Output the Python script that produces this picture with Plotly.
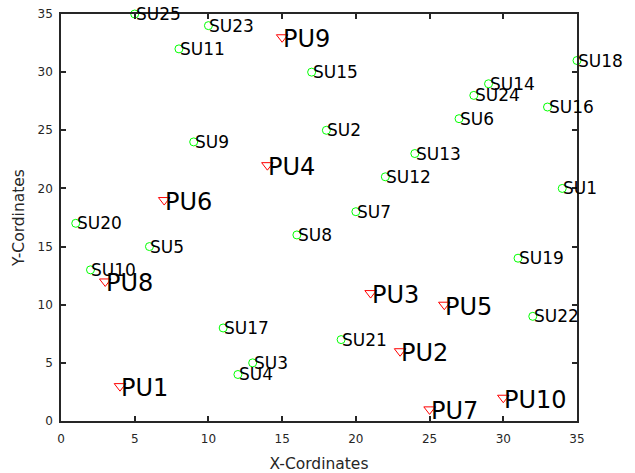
import plotly.graph_objects as go

# Secondary users (SU): positions and names
su_names = ["SU1", "SU2", "SU3", "SU4", "SU5", "SU6", "SU7", "SU8", "SU9", "SU10",
            "SU11", "SU12", "SU13", "SU14", "SU15", "SU16", "SU17", "SU18", "SU19", "SU20",
            "SU21", "SU22", "SU23", "SU24", "SU25"]
su_x = [34, 18, 13, 12, 6, 27, 20, 16, 9, 2,
        8, 22, 24, 29, 17, 33, 11, 35, 31, 1,
        19, 32, 10, 28, 5]
su_y = [20, 25, 5, 4, 15, 26, 18, 16, 24, 13,
        32, 21, 23, 29, 30, 27, 8, 31, 14, 17,
        7, 9, 34, 28, 35]

# Primary users (PU): positions and names
pu_names = ["PU1", "PU2", "PU3", "PU4", "PU5", "PU6", "PU7", "PU8", "PU9", "PU10"]
pu_x = [4, 23, 21, 14, 26, 7, 25, 3, 15, 30]
pu_y = [3, 6, 11, 22, 10, 19, 1, 12, 33, 2]

# Axis ticks
tick_vals = [0, 5, 10, 15, 20, 25, 30, 35]

FONT = "DejaVu Sans"
AX_COLOR = "#262626"

fig = go.Figure()

fig.add_trace(go.Scatter(
    x=su_x, y=su_y, mode="markers",
    marker=dict(symbol="circle-open", size=8, color="#00ff00", line=dict(width=1)),
    cliponaxis=False, hoverinfo="skip", showlegend=False,
))
fig.add_trace(go.Scatter(
    x=pu_x, y=pu_y, mode="markers",
    marker=dict(symbol="triangle-down-open", size=10, color="#ff0000", line=dict(width=1)),
    cliponaxis=False, hoverinfo="skip", showlegend=False,
))

annotations = []
for name, x, y in zip(su_names, su_x, su_y):
    annotations.append(dict(x=x, y=y, text=name, showarrow=False,
                            xanchor="left", yanchor="middle", xshift=-1,
                            font=dict(family=FONT, size=17, color="black")))
for name, x, y in zip(pu_names, pu_x, pu_y):
    annotations.append(dict(x=x, y=y, text=name, showarrow=False,
                            xanchor="left", yanchor="middle", xshift=-1, yshift=-2,
                            font=dict(family=FONT, size=24, color="black")))

axis_common = dict(
    range=[0, 35], tickvals=tick_vals, showgrid=False, zeroline=False,
    showline=True, linecolor=AX_COLOR, linewidth=1.5, mirror="ticks",
    ticks="inside", ticklen=5, tickwidth=1.5, tickcolor=AX_COLOR,
    tickfont=dict(family=FONT, size=12, color=AX_COLOR), automargin=False,
)

fig.update_layout(
    width=635, height=473,
    margin=dict(l=61, r=58, t=14, b=52),
    paper_bgcolor="white", plot_bgcolor="white",
    xaxis=dict(**axis_common, ticklabelstandoff=6,
               title=dict(text="X-Cordinates", standoff=13,
                          font=dict(family=FONT, size=15.5, color=AX_COLOR))),
    yaxis=dict(**axis_common, ticklabelstandoff=4,
               title=dict(text="Y-Cordinates", standoff=9,
                          font=dict(family=FONT, size=15.5, color=AX_COLOR))),
    annotations=annotations,
)

fig.write_html("out.html")
